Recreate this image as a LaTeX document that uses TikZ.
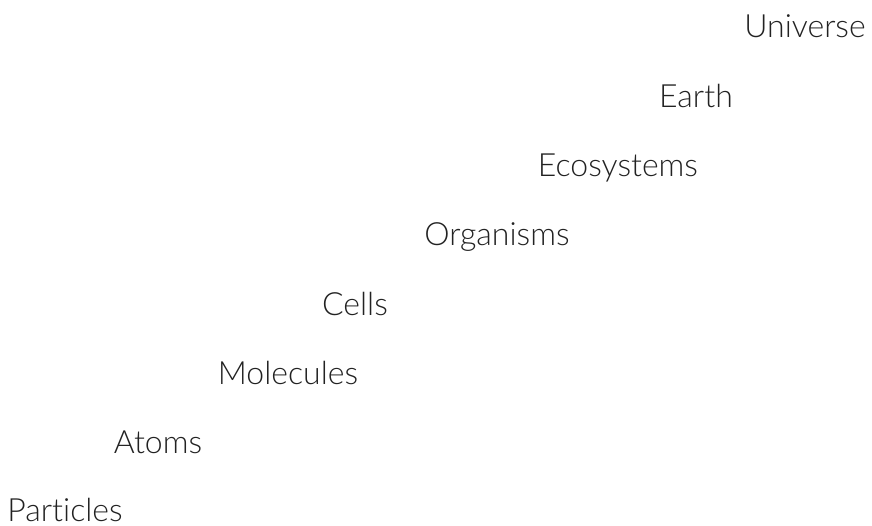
\documentclass[tikz,border=0pt]{standalone}
\usepackage{fontspec}
\setmainfont{Lato Light}[Ligatures=NoCommon]
\definecolor{scaleTextColor}{HTML}{222222}
\begin{document}
\begin{tikzpicture}
% Scale ladder, one unit per pixel of the sheet
\def\pxsz{0.5pt}
\providecommand{\scaleFontSize}{16}
\begin{scope}[x=\pxsz, y=-\pxsz,
  level/.style={inner sep=0pt, anchor=base, text depth=0pt, text=scaleTextColor,
    font=\fontsize{\scaleFontSize}{20}\selectfont}]
  % Sheet
  \useasboundingbox (0,0) rectangle (872,525);
  % Levels, from small to large
  \node[level] (particles) at (65,521) {Particles};
  \node[level] (atoms)     at (158,453) {Atoms};
  \node[level] (molecules) at (288,384) {Molecules};
  \node[level] (cells)     at (355,315) {Cells};
  \node[level] (organisms) at (497,245) {Organisms};
  \node[level] (ecosystems) at (618,176) {Ecosystems};
  \node[level] (earth)     at (696,107) {Earth};
  \node[level] (universe)  at (805,37) {Universe};
\end{scope}
\end{tikzpicture}
\end{document}
